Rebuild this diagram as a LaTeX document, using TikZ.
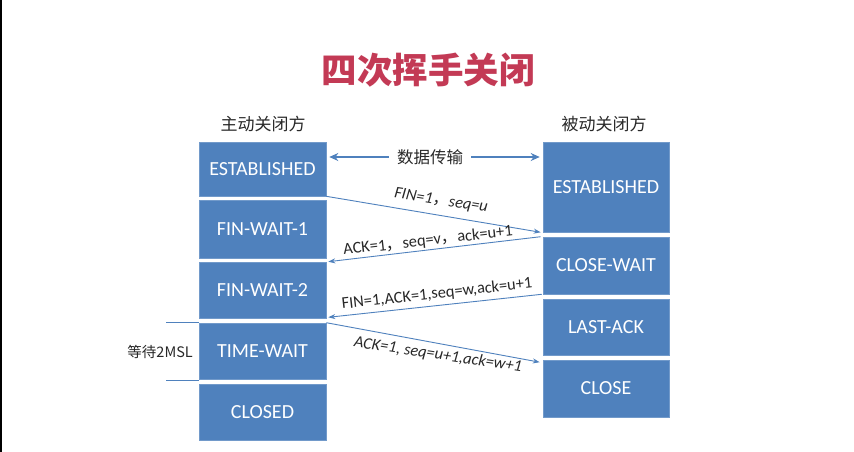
\documentclass[tikz,border=0pt]{standalone}
\usepackage{fontspec}
\setmainfont{Carlito}
\newfontfamily\cjk{Noto Sans CJK SC}
\usetikzlibrary{arrows.meta}
\definecolor{boxblue}{RGB}{79,129,189}
\definecolor{titlered}{RGB}{195,58,85}
\definecolor{txtgray}{RGB}{40,40,40}
\tikzset{
  statebox/.style={fill=boxblue, draw=boxblue!80!white, line width=0.6pt, text=white, inner sep=0pt,
    font=\fontsize{20}{22}\selectfont},
  lbox/.style={statebox, minimum width=127pt},
  rbox/.style={statebox, minimum width=126pt},
  msg/.style={draw=boxblue, line width=0.9pt, -{Stealth[length=7pt,width=5pt]}},
  msglabel/.style={text=txtgray, inner sep=0pt, font=\fontsize{16.4}{18}\selectfont},
  msgitalic/.style={msglabel, font=\itshape\fontsize{16.4}{18}\selectfont},
  thick arrow/.style={draw=boxblue, line width=2pt, -{Stealth[length=9pt,width=8pt]}},
  sideline/.style={draw=boxblue, line width=0.8pt},
  head/.style={text=txtgray, inner sep=0pt, font=\cjk\fontsize{17}{19}\selectfont}
}
\begin{document}
\begin{tikzpicture}[x=1pt,y=-1pt]
\useasboundingbox (0,0) rectangle (854,452);
\fill[white] (0,0) rectangle (854,452);
\fill[black] (0,0) rectangle (1.5,452);

\node[font=\cjk\bfseries\fontsize{35.5}{40}\selectfont, text=titlered, inner sep=0pt] (title) at (428,70) {四次挥手关闭};

\node[head] (hl) at (263,124) {主动关闭方};
\node[head] (hr) at (604,124) {被动关闭方};

% left boxes
\node[lbox, minimum height=54pt] (l1) at (262.5,169) {ESTABLISHED};
\node[lbox, minimum height=58pt] (l2) at (262.5,229) {FIN-WAIT-1};
\node[lbox, minimum height=56pt] (l3) at (262.5,290) {FIN-WAIT-2};
\node[lbox, minimum height=56pt] (l4) at (262.5,351) {TIME-WAIT};
\node[lbox, minimum height=56pt] (l5) at (262.5,412) {CLOSED};

% right boxes
\node[rbox, minimum height=90pt] (r1) at (606,187) {ESTABLISHED};
\node[rbox, minimum height=57pt] (r2) at (606,265.5) {CLOSE-WAIT};
\node[rbox, minimum height=56pt] (r3) at (606,327) {LAST-ACK};
\node[rbox, minimum height=57pt] (r4) at (606,388.5) {CLOSE};

% data transfer
\node[head, font=\cjk\fontsize{16.5}{18}\selectfont] (dt) at (430,157) {数据传输};
\coordinate (dtl) at (l1.east |- dt);
\coordinate (dtr) at (r1.west |- dt);
\draw[thick arrow] ([xshift=-8pt]dt.west) -- ([xshift=3pt]dtl);
\draw[thick arrow] ([xshift=8pt]dt.east) -- ([xshift=-3pt]dtr);

% messages
\coordinate (m1e) at ([xshift=-2pt]r1.south west);
\draw[msg] (l1.south east) -- (m1e);
\node[msgitalic, rotate=-9] (t1) at (441,201) {FIN=1{\cjk ，}seq=u};

\coordinate (m2s) at ([xshift=-2pt]r2.north west);
\coordinate (m2e) at ([xshift=2pt]l3.north east);
\draw[msg] (m2s) -- (m2e);
\node[msglabel, rotate=6.5] (t2) at (428,241) {ACK=1{\cjk ，}seq=v{\cjk ，}ack=u+1};

\coordinate (m3s) at ([xshift=-1pt]r2.south west);
\coordinate (m3e) at ([xshift=2pt,yshift=1pt]l3.south east);
\draw[msg] (m3s) -- (m3e);
\node[msglabel, rotate=6.3] (t3) at (437,294) {FIN=1,ACK=1,seq=w,ack=u+1};

\coordinate (m4e) at ([xshift=-3pt,yshift=-2.5pt]r4.north west);
\draw[msg] (l4.north east) -- (m4e);
\node[msgitalic, rotate=-8.5] (t4) at (438,355) {ACK=1, seq=u+1,ack=w+1};

% 2MSL
\coordinate (s1) at (166,322);
\coordinate (s2) at (166,380);
\draw[sideline] (s1) -- (s1 -| l4.west);
\draw[sideline] (s2) -- (s2 -| l4.west);
\node[head, font=\cjk\fontsize{14.5}{16}\selectfont, anchor=east] (msl) at (193,352) {等待2MSL};
\end{tikzpicture}
\end{document}
